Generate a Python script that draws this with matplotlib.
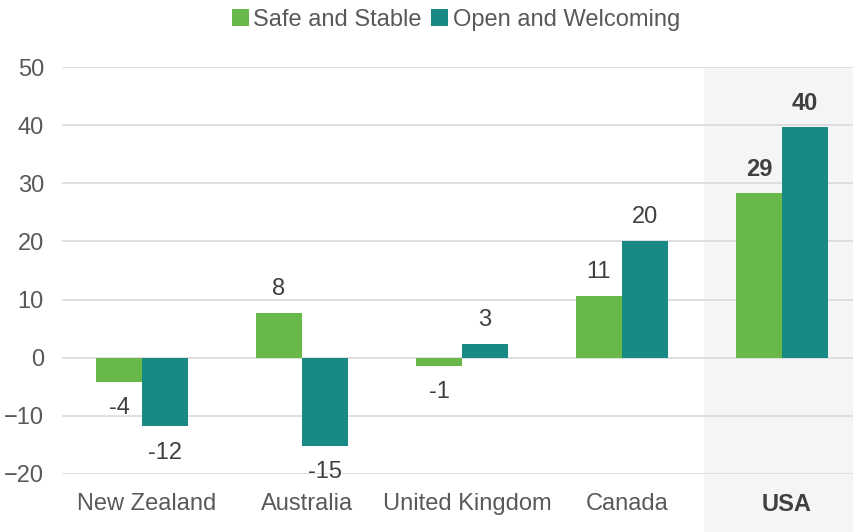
import matplotlib
matplotlib.use("Agg")
import numpy as np
import matplotlib.pyplot as plt
from matplotlib.patches import Rectangle
from matplotlib.transforms import blended_transform_factory, ScaledTranslation

countries = ["New Zealand", "Australia", "United Kingdom", "Canada", "USA"]
safe_vals = [-4.1, 7.7, -1.4, 10.7, 28.3]
open_vals = [-11.8, -15.2, 2.4, 20.1, 39.6]
safe_labels = ["-4", "8", "-1", "11", "29"]
open_labels = ["-12", "-15", "3", "20", "40"]
y_ticks = [-20, -10, 0, 10, 20, 30, 40, 50]

GREEN = "#69B84A"
TEAL = "#178A85"
TEXT = "#595959"
DARK = "#404040"

plt.rcParams["font.family"] = ["Liberation Sans", "DejaVu Sans"]

fig = plt.figure(figsize=(8.54, 5.32), dpi=100)
ax = fig.add_axes([62 / 854, 58 / 532, 800 / 854, (474 - 67) / 532])
ax.patch.set_alpha(0)
ax.set_zorder(2)

x = np.arange(len(countries))
w = 0.2875
b1 = ax.bar(x - w / 2, safe_vals, w, color=GREEN, label="Safe and Stable", zorder=3)
b2 = ax.bar(x + w / 2, open_vals, w, color=TEAL, label="Open and Welcoming", zorder=3)

ax.set_xlim(-0.5, 4.5)
ax.set_ylim(-20, 50)
ax.set_yticks(y_ticks)
ax.set_xticks(x)
ax.set_xticklabels(countries)
ax.grid(axis="y", color="#D9D9D9", linewidth=1.2, zorder=0)
for s in ax.spines.values():
    s.set_visible(False)
ax.tick_params(length=0, labelsize=17, colors=TEXT)
ax.tick_params(axis="x", pad=14)
ax.tick_params(axis="y", pad=13)

# category labels sit a few pixels right of the bar groups in the original
shift = ScaledTranslation(5 / 100, 0, fig.dpi_scale_trans)
for lab in ax.get_xticklabels():
    lab.set_transform(lab.get_transform() + shift)

# highlight USA column, down through the tick labels
usa = countries.index("USA")
trans = blended_transform_factory(ax.transData, fig.transFigure)
fig.patches.append(Rectangle((usa - 0.485, 0), 1.2, 1 - 67 / 532, transform=trans,
                             facecolor="#F5F5F5", edgecolor="none", zorder=0))
xl = ax.get_xticklabels()[usa]
xl.set_fontweight("bold")
xl.set_color(DARK)

for bars, labels in [(b1, safe_labels), (b2, open_labels)]:
    for i, (bar, lab) in enumerate(zip(bars, labels)):
        v = bar.get_height()
        cx = bar.get_x() + bar.get_width() / 2
        off = 17 if v >= 0 else -19
        ax.annotate(lab, (cx, v), xytext=(0, off), textcoords="offset points",
                    ha="center", va="center", fontsize=17, color=DARK,
                    fontweight="bold" if i == usa else "normal", zorder=4)

fig.legend(loc="center", bbox_to_anchor=(456 / 854, 1 - 20 / 532), ncol=2,
           frameon=False, fontsize=17, handlelength=0.7, handleheight=0.7,
           handletextpad=0.2, columnspacing=0.4, labelcolor=TEXT)

fig.savefig("out.png", dpi=100)
